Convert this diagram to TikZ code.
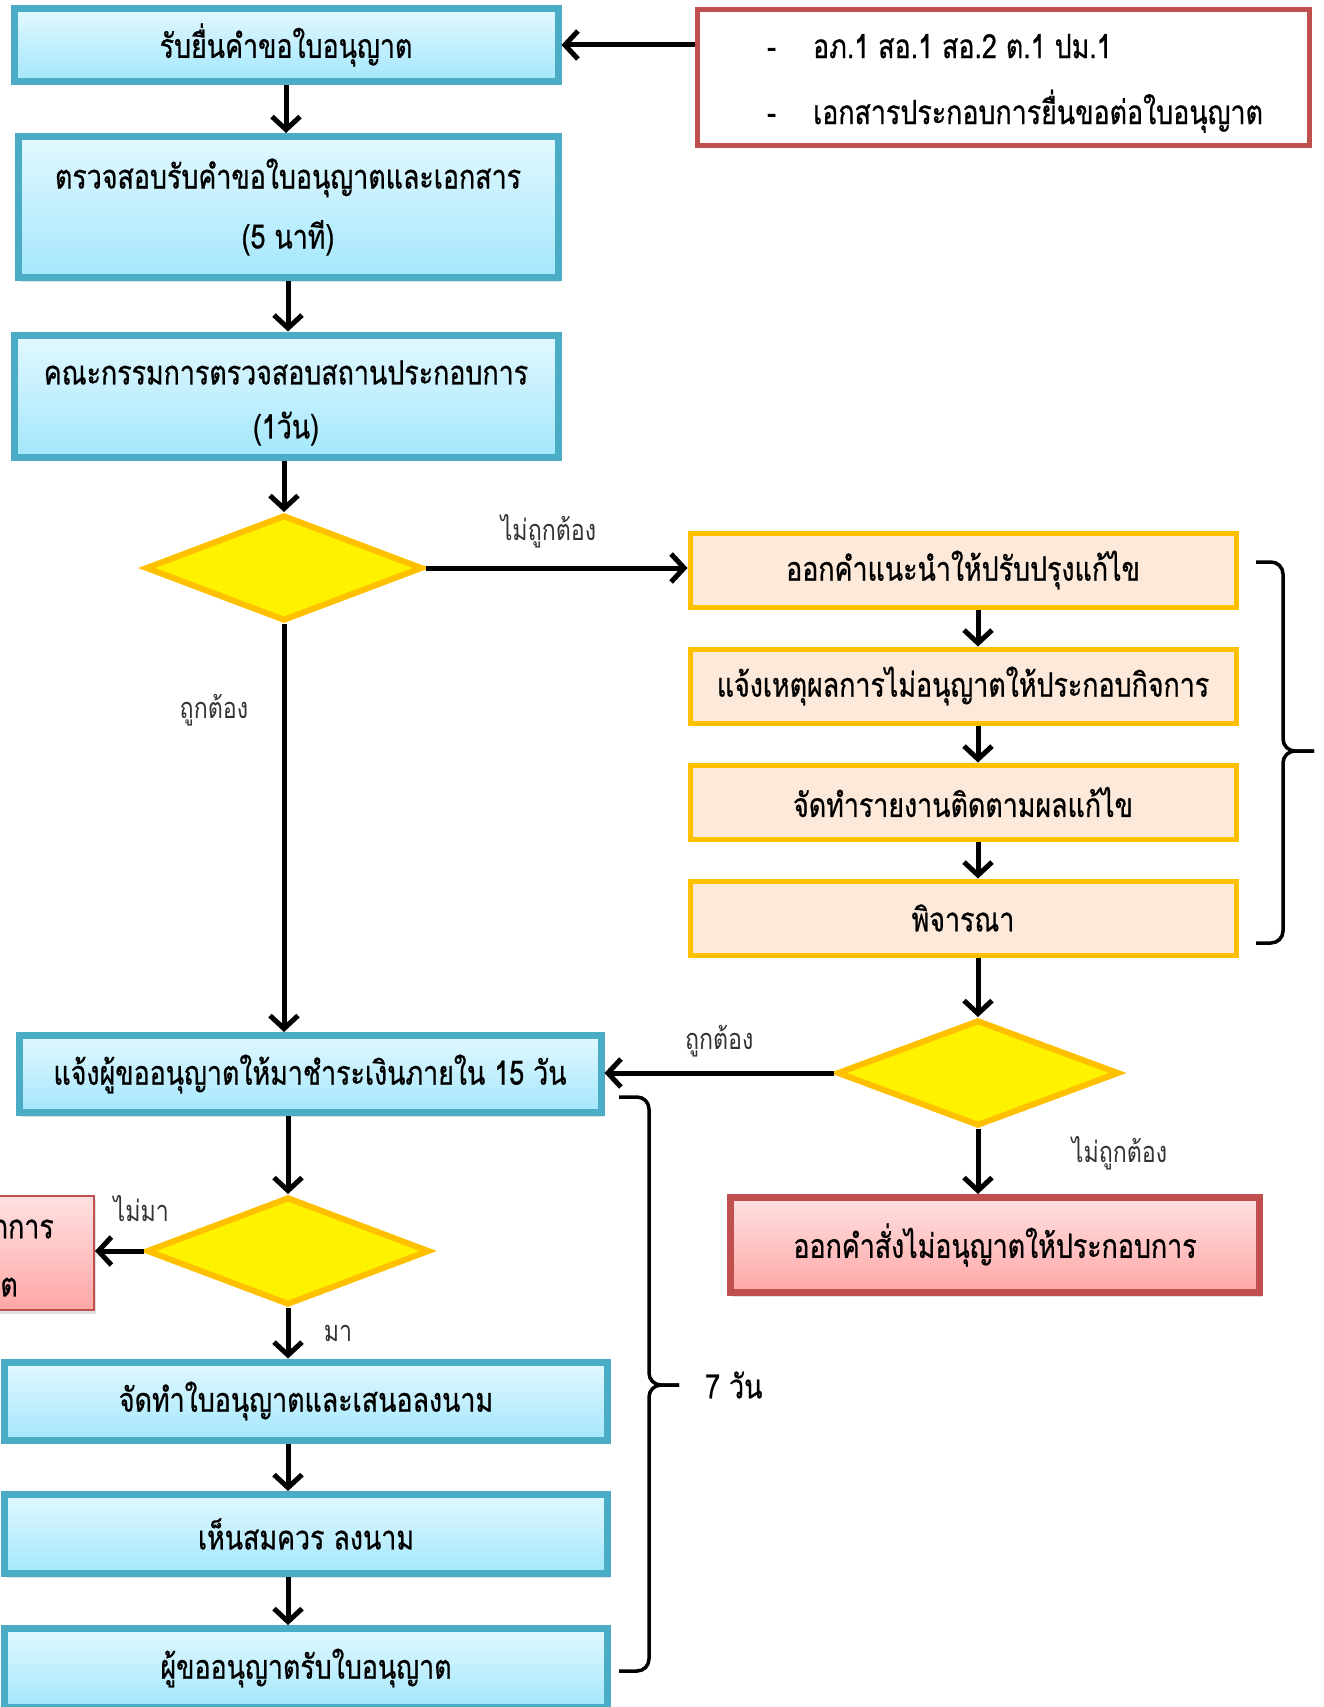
\documentclass[tikz,border=0pt]{standalone}
\usepackage{fontspec}
\setmainfont{Loma}[Script=Thai,FakeStretch=0.8,FakeBold=0.7]
\newfontfamily\thinthai{Loma}[Script=Thai,FakeStretch=0.8]
\usetikzlibrary{positioning,shapes.geometric,arrows.meta,shadows}
\usepackage{xcolor}
\definecolor{boxblue}{HTML}{4BACC6}
\definecolor{bluetop}{HTML}{E2F8FE}
\definecolor{bluebot}{HTML}{A3E7FC}
\definecolor{orangeline}{HTML}{FFC000}
\definecolor{peach}{HTML}{FDE9D9}
\definecolor{redline}{HTML}{C0504D}
\definecolor{pinktop}{HTML}{FFE1E1}
\definecolor{pinkbot}{HTML}{FFA6A6}
\newcommand{\boxfont}{\fontsize{33.5}{60}\selectfont}
\newcommand{\labelfont}{\thinthai\fontsize{29}{32}\selectfont}

\begin{document}
\begin{tikzpicture}[x=1pt, y=-1pt, node distance=37pt, >={Straight Barb[length=13pt,width=28pt]},
    bluebox/.style={draw=boxblue, line width=7pt, rectangle, top color=bluetop, bottom color=bluebot,
        minimum width=544pt, minimum height=73pt, align=center, font=\boxfont,
        drop shadow={shadow xshift=2pt, shadow yshift=-4pt, opacity=0.25}},
    peachbox/.style={draw=orangeline, line width=5pt, rectangle, fill=peach,
        minimum width=546pt, minimum height=74pt, font=\boxfont},
    redbox/.style={draw=redline, line width=7pt, rectangle, top color=pinktop, bottom color=pinkbot,
        align=center, font=\boxfont, drop shadow={shadow xshift=2pt, shadow yshift=-4pt, opacity=0.25}},
    decision/.style={diamond, draw=orangeline, line width=6pt, fill=yellow, inner sep=0pt,
        minimum width=277pt, minimum height=106pt},
    flow/.style={->, line width=5pt},
    bracket/.style={line width=3.5pt, rounded corners=12pt},
    lbl/.style={font=\labelfont, text=black!80}]
    \useasboundingbox (0,0) rectangle (1324,1707);

    % Nodes, main column
    \node [bluebox] (receive) at (286,45) {รับยื่นคำขอใบอนุญาต};
    \node [bluebox, minimum width=540pt, minimum height=141pt] (check) at (288,207) {ตรวจสอบรับคำขอใบอนุญาตและเอกสาร\\(5 นาที)};
    \node [bluebox, minimum height=122pt, font=\fontsize{33.5}{54}\selectfont] (inspect) at (286,396) {\rule{0pt}{38pt}คณะกรรมการตรวจสอบสถานประกอบการ\\(1วัน)};
    \node [decision] (checkone) at (284,568) {};
    \node [bluebox, minimum width=582pt, minimum height=77pt] (pay) at (310,1074) {แจ้งผู้ขออนุญาตให้มาชำระเงินภายใน 15 วัน};
    \node [decision, minimum width=283pt, minimum height=108pt] (cometwo) at (288,1251) {};
    \node [bluebox, minimum width=603pt, minimum height=78pt] (make) at (306,1401) {จัดทำใบอนุญาตและเสนอลงนาม};
    \node [bluebox, minimum width=603pt, minimum height=79pt] (sign) at (306,1534) {เห็นสมควร ลงนาม};
    \node [bluebox, minimum width=603pt, minimum height=79pt] (get) at (306,1668) {ผู้ขออนุญาตรับใบอนุญาต};

    % Documents box
    \node [draw=redline, line width=5pt, fill=white, minimum width=612pt, minimum height=136pt,
        align=left, font=\fontsize{33.5}{66}\selectfont] (docs) at (1003,78)
        {\rule{0pt}{35pt}\hspace*{24pt}\makebox[46pt][l]{-}อภ.1 สอ.1 สอ.2 ต.1 ปม.1\\\hspace*{24pt}\makebox[46pt][l]{-}เอกสารประกอบการยื่นขอต่อใบอนุญาต};

    % Correction column
    \node [peachbox] (advise) at (963,570) {ออกคำแนะนำให้ปรับปรุงแก้ไข};
    \node [peachbox, below=of advise] (reason) {แจ้งเหตุผลการไม่อนุญาตให้ประกอบกิจการ};
    \node [peachbox, below=of reason] (report) {จัดทำรายงานติดตามผลแก้ไข};
    \node [peachbox, below=of report] (consider) {พิจารณา};
    \node [decision, minimum width=282pt] (checkthree) at (978,1073) {};
    \node [redbox, minimum width=529pt, minimum height=95pt] (refuse) at (995,1245) {ออกคำสั่งไม่อนุญาตให้ประกอบการ};

    % Cut-off box on the left
    \node [redbox, line width=2.5pt, minimum width=300pt, minimum height=114pt, anchor=east] (cancel) at (95,1253) {};
    \node [font=\boxfont, inner sep=0pt, anchor=east] (canceltop) at (54,1229) {กการ};
    \node [font=\boxfont, inner sep=0pt, anchor=east] (cancelbot) at (18,1287) {ต};

    % Arrows with labels
    \draw[flow] (docs.west |- receive.east) -- (receive.east);
    \draw[flow] (receive.south) -- (receive.south |- check.north);
    \draw[flow] (check.south) -- (check.south |- inspect.north);
    \draw[flow] (inspect.south -| checkone.north) -- (checkone.north);
    \draw[flow] (checkone.east) -- node[midway, above=14pt, xshift=-8pt, lbl] {ไม่ถูกต้อง} (checkone.east -| advise.west);
    \draw[flow] (checkone.south) -- node[pos=0.21, left=30pt, lbl] {ถูกต้อง} (checkone.south |- pay.north);
    \draw[flow] (advise.south -| checkthree.north) -- (reason.north -| checkthree.north);
    \draw[flow] (reason.south -| checkthree.north) -- (report.north -| checkthree.north);
    \draw[flow] (report.south -| checkthree.north) -- (consider.north -| checkthree.north);
    \draw[flow] (consider.south -| checkthree.north) -- (checkthree.north);
    \draw[flow] (checkthree.west) -- node[midway, above=10pt, lbl] {ถูกต้อง} (checkthree.west -| pay.east);
    \draw[flow] (checkthree.south) -- node[pos=0.37, right=88pt, lbl] {ไม่ถูกต้อง} (checkthree.south |- refuse.north);
    \draw[flow] (pay.south -| cometwo.north) -- (cometwo.north);
    \draw[flow] (cometwo.west) -- node[midway, above=24pt, xshift=22pt, lbl] {ไม่มา} (cometwo.west -| cancel.east);
    \draw[flow] (cometwo.south) -- node[midway, right=30pt, lbl] {มา} (cometwo.south |- make.north);
    \draw[flow] (make.south -| cometwo.south) -- (sign.north -| cometwo.south);
    \draw[flow] (sign.south -| cometwo.south) -- (get.north -| cometwo.south);

    % Braces
    \coordinate (bracetop) at (1256,562);
    \coordinate (bracetip) at (1314,751);
    \coordinate (bracebot) at (1256,943);
    \draw[bracket] (bracetop) -- (1283,562) -- (1283,751) -- (bracetip);
    \draw[bracket] (bracetip) -- (1283,751) -- (1283,943) -- (bracebot);
    \coordinate (paytop) at (619,1097);
    \coordinate (paytip) at (679,1385);
    \coordinate (paybot) at (619,1671);
    \draw[bracket] (paytop) -- (649,1097) -- (649,1385) -- (paytip);
    \draw[bracket] (paytip) -- (649,1385) -- (649,1671) -- (paybot);
    \node [right=26pt of paytip, font=\boxfont, inner sep=0pt] (days) {7 วัน};
\end{tikzpicture}
\end{document}
